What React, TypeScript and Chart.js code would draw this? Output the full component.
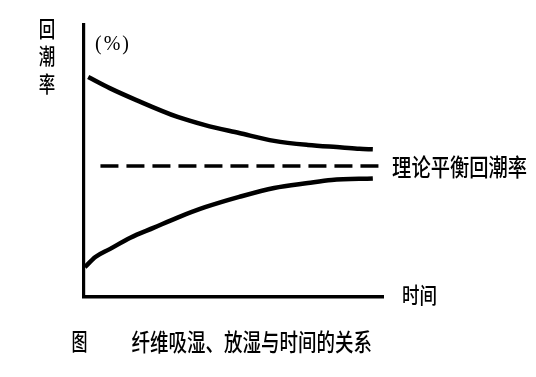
import React, { useEffect, useRef } from "react";
import { Chart, registerables } from "chart.js";

Chart.register(...registerables);

// Desorption curve (fibre giving off moisture) — time vs regain
const desorptionTime = [1.4, 8.6, 17.5, 31.3, 40.5, 51.9, 63.6, 74.9, 86.3, 92.1, 96.6];
const desorptionRegain = [80.9, 76.8, 72.4, 66.2, 63.2, 60.3, 57.4, 55.9, 55.0, 54.5, 54.3];
// Absorption curve (fibre taking up moisture)
const absorptionTime = [0.3, 3.8, 8.6, 15.5, 23.4, 31.3, 40.5, 51.9, 63.6, 74.9, 82.8, 96.6];
const absorptionRegain = [11.0, 14.7, 17.6, 21.8, 25.5, 29.2, 33.0, 36.8, 40.1, 41.9, 43.0, 43.6];
// Theoretical equilibrium regain (dashed)
const equilibriumTime = [5.5, 99.7];
const equilibriumRegain = [48.2, 48.2];

const yAxisLabel = ["回", "潮", "率"];
const unitLabel = "(%)";
const xAxisLabel = "时间";
const equilibriumLabel = "理论平衡回潮率";
const captionPrefix = "图";
const caption = "纤维吸湿、放湿与时间的关系";

const CJK = '"Noto Sans CJK SC", "Noto Sans", sans-serif';

const toPoints = (xs: number[], ys: number[]) => xs.map((x, i) => ({ x, y: ys[i] }));

function drawText(ctx: CanvasRenderingContext2D, text: string, x: number, y: number, font: string, align: CanvasTextAlign, sy = 1.15) {
  ctx.save();
  ctx.font = font;
  ctx.textAlign = align;
  ctx.textBaseline = "middle";
  ctx.translate(x, y);
  ctx.scale(1, sy);
  ctx.fillText(text, 0, 0);
  ctx.restore();
}

const textPlugin = {
  id: "chartTexts",
  afterDraw(chart: any) {
    const { ctx, chartArea, scales } = chart;
    ctx.save();
    ctx.fillStyle = "#000";

    // vertical y-axis label
    yAxisLabel.forEach((c, i) => {
      drawText(ctx, c, chartArea.left - 37, chartArea.top + 4 + i * 27.3, `500 16.5px ${CJK}`, "center", 1.3);
    });

    // unit
    ctx.save();
    (ctx as any).letterSpacing = "2px";
    drawText(ctx, unitLabel, chartArea.left + 29, chartArea.top + 19, `20px "Liberation Serif", serif`, "center", 1.05);
    ctx.restore();

    // equilibrium label
    const ex = scales.x.getPixelForValue(equilibriumTime[equilibriumTime.length - 1]);
    const ey = scales.y.getPixelForValue(equilibriumRegain[0]);
    drawText(ctx, equilibriumLabel, ex + 10, ey + 1, `500 19.3px ${CJK}`, "left", 1.22);

    // x-axis label
    drawText(ctx, xAxisLabel, chartArea.right + 19, chartArea.bottom - 2, `500 17.5px ${CJK}`, "left", 1.22);

    // caption
    drawText(ctx, captionPrefix, chartArea.left - 4.5, chartArea.bottom + 44.5, `500 16px ${CJK}`, "center", 1.4);
    drawText(ctx, caption, chartArea.left + 47.5, chartArea.bottom + 44.5, `500 18.5px ${CJK}`, "left", 1.3);
    ctx.restore();
  },
};

export default function App() {
  const ref = useRef<HTMLCanvasElement | null>(null);

  useEffect(() => {
    if (!ref.current) return;
    const chart = new Chart(ref.current, {
      type: "line",
      data: {
        datasets: [
          {
            label: "放湿",
            data: toPoints(desorptionTime, desorptionRegain),
            borderColor: "#000",
            borderWidth: 4.5,
            pointRadius: 0,
            tension: 0.4,
            cubicInterpolationMode: "monotone",
            fill: false,
            clip: false as any,
          },
          {
            label: "吸湿",
            data: toPoints(absorptionTime, absorptionRegain),
            borderColor: "#000",
            borderWidth: 4.5,
            pointRadius: 0,
            tension: 0.4,
            cubicInterpolationMode: "monotone",
            fill: false,
            clip: false as any,
          },
          {
            label: equilibriumLabel,
            data: toPoints(equilibriumTime, equilibriumRegain),
            borderColor: "#000",
            borderWidth: 3.5,
            borderDash: [18, 8],
            pointRadius: 0,
            fill: false,
            clip: false as any,
          },
        ],
      },
      options: {
        responsive: false,
        animation: false,
        layout: { padding: { left: 84, right: 153, top: 25, bottom: 80 } },
        plugins: {
          legend: { display: false },
          tooltip: { enabled: false },
          title: { display: false },
        },
        scales: {
          x: {
            type: "linear",
            min: 0,
            max: 100,
            grid: { display: false, drawTicks: false, tickLength: 0 },
            ticks: { display: false },
            border: { display: true, color: "#000", width: 3.5 },
          },
          y: {
            type: "linear",
            min: 0,
            max: 100,
            grid: { display: false, drawTicks: false, tickLength: 0 },
            ticks: { display: false },
            border: { display: true, color: "#000", width: 3.2 },
          },
        },
      },
      plugins: [textPlugin],
    });
    return () => chart.destroy();
  }, []);

  return (
    <div style={{ position: "fixed", left: 0, top: 0, width: 536, height: 377, background: "#fff" }}>
      <canvas ref={ref} width={536} height={377} />
    </div>
  );
}
